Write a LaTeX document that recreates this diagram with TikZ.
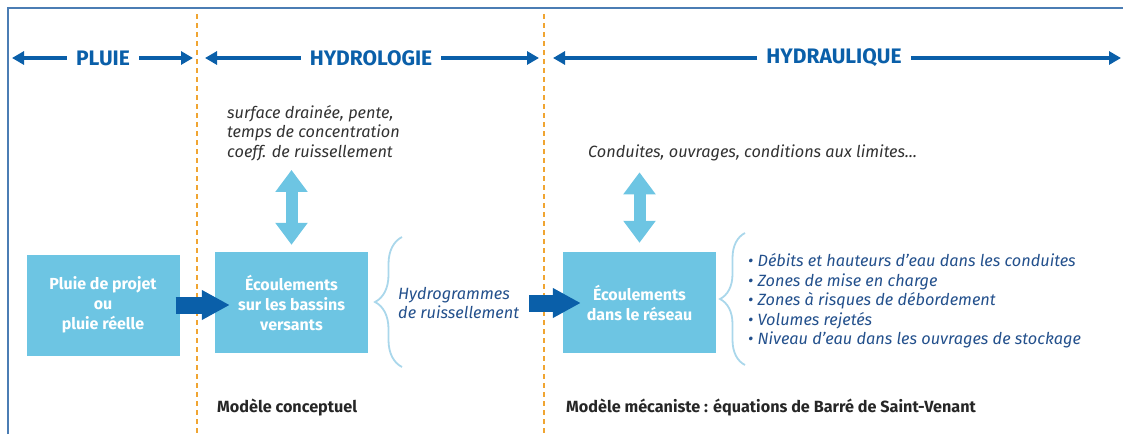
\documentclass[tikz,border=0pt]{standalone}
\usepackage{fontspec}
\setmainfont{Fira Sans}
\usetikzlibrary{arrows.meta,decorations.pathreplacing}

\definecolor{bleuclair}{RGB}{109,197,227}
\definecolor{bleufonce}{RGB}{10,95,169}
\definecolor{bleutexte}{RGB}{35,80,140}
\definecolor{bleuaccolade}{RGB}{170,215,235}
\definecolor{orangetiret}{RGB}{240,165,50}
\definecolor{cadrebleu}{RGB}{75,125,180}
\definecolor{gristexte}{RGB}{50,50,50}

\begin{document}
\begin{tikzpicture}[x=1pt, y=-1pt,
    every node/.style={inner sep=2pt},
    boite/.style={fill=bleuclair, text=white, align=center, font=\bfseries\fontsize{16}{20}\selectfont, minimum width=153pt, minimum height=101pt},
    titre/.style={text=bleufonce, font=\bfseries\fontsize{21}{24}\selectfont, inner xsep=9pt},
    fleche/.style={draw=bleufonce, line width=3.5pt, -{Triangle[width=13pt,length=12pt]}},
    grande/.style={draw=bleufonce, line width=17pt, -{Triangle[width=28pt,length=28pt]}},
    double/.style={draw=bleuclair, line width=12pt, {Triangle[width=31pt,length=22pt]}-{Triangle[width=31pt,length=22pt]}},
    accolade/.style={draw=bleuaccolade, line width=1.8pt, decorate, decoration={brace, amplitude=#1}},
    sortie/.style={text=bleutexte, align=left, font=\itshape\fontsize{16.3}{19.5}\selectfont, anchor=west},
    param/.style={text=gristexte, align=left, font=\itshape\fontsize{16.3}{19.5}\selectfont, anchor=west},
    modele/.style={text=black!85, font=\bfseries\fontsize{16.2}{18}\selectfont, anchor=west},
    tiret/.style={draw=orangetiret, line width=2pt, dash pattern=on 5pt off 4pt}]

    \useasboundingbox (0,0) rectangle (1123,434);
    \draw[cadrebleu, line width=1.5pt] (8,434) -- (8,8) -- (1123,8);
    \draw[tiret] (197,14) -- (197,434);
    \draw[tiret] (544,14) -- (544,434);

    \node[titre] (pluie) at (103,58) {PLUIE};
    \node[titre] (hydrologie) at (371,58) {HYDROLOGIE};
    \node[titre] (hydraulique) at (834,58) {HYDRAULIQUE};
    \coordinate (p0) at (12,58);
    \coordinate (p1) at (193,58);
    \coordinate (h0) at (205,58);
    \coordinate (h1) at (539,58);
    \coordinate (r0) at (553,58);
    \coordinate (r1) at (1121,58);
    \draw[fleche] (pluie) -- (p0);
    \draw[fleche] (pluie) -- (p1);
    \draw[fleche] (hydrologie) -- (h0);
    \draw[fleche] (hydrologie) -- (h1);
    \draw[fleche] (hydraulique) -- (r0);
    \draw[fleche] (hydraulique) -- (r1);

    \node[boite] (projet) at (103,305) {Pluie de projet\\ou\\pluie réelle};
    \node[boite] (bassins) at (291.5,302.5) {Écoulements\\sur les bassins\\versants};
    \node[boite] (reseau) at (639.5,302.5) {Écoulements\\dans le réseau};

    \node[param] (caract) at (225,133) {surface drainée, pente,\\temps de concentration\\coeff. de ruissellement};
    \node[param] (conduites) at (586,153) {Conduites, ouvrages, conditions aux limites...};

    \node[sortie] (hydro) at (396,303) {Hydrogrammes\\de ruissellement};
    \node[sortie] (resultats) at (746,301) {\textbullet\ Débits et hauteurs d’eau dans les conduites\\\textbullet\ Zones de mise en charge\\\textbullet\ Zones à risques de débordement\\\textbullet\ Volumes rejetés\\\textbullet\ Niveau d’eau dans les ouvrages de stockage};

    \draw[accolade=27pt] (402,367) -- (402,237);
    \draw[accolade=25pt] (745,365) -- (745,233);

    \draw[grande, shorten <=-4pt, shorten >=-15pt] (projet.east) -- (projet.east -| bassins.west);
    \draw[grande, shorten <=8pt, shorten >=-18pt] (hydro.east) -- (hydro.east -| reseau.west);

    \draw[double, shorten <=7pt, shorten >=7pt] (caract.south -| bassins.north) -- (bassins.north);
    \draw[double, shorten <=9pt, shorten >=9pt] (conduites.south -| reseau.north) -- (reseau.north);

    \node[modele] (conceptuel) at (215,408) {Modèle conceptuel};
    \node[modele] (mecaniste) at (564,408) {Modèle mécaniste : équations de Barré de Saint-Venant};
\end{tikzpicture}
\end{document}
